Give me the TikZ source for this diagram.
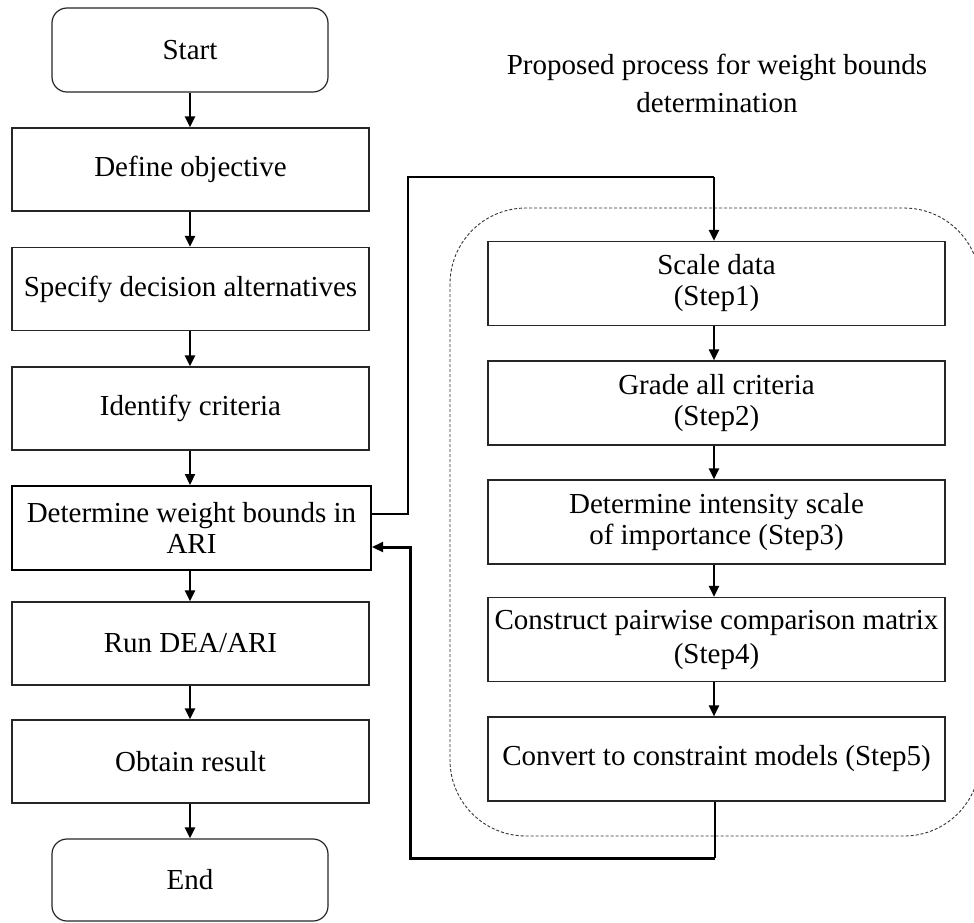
\documentclass[tikz,border=0pt]{standalone}
\usepackage{fontspec}
\setmainfont{Liberation Serif}
\usetikzlibrary{arrows.meta}
\begin{document}
\begin{tikzpicture}[x=1pt,y=-1pt,
  txt/.style={font=\fontsize{29}{31}\selectfont},
  box/.style={txt, draw=black!85, line width=1.2pt, fill=white, inner sep=0pt, align=center},
  leftbox/.style={box, minimum width=357, minimum height=83},
  rightbox/.style={box, minimum width=457, minimum height=84},
  termbox/.style={box, rounded corners=15, minimum width=276, minimum height=84},
  keybox/.style={box, draw=black, line width=2pt, minimum width=359, minimum height=84},
  arr/.style={draw=black, line width=2.2pt, -{Triangle[length=11pt,width=10pt]}},
  thinline/.style={draw=black, line width=1.2pt},
  thickline/.style={draw=black, line width=3pt},
  groupline/.style={draw=black!80, line width=0.9pt, dash pattern=on 3pt off 2pt, rounded corners=76}]
\useasboundingbox (0,0) rectangle (974,922);

% group outline for the proposed steps
\draw[groupline] (450,208) rectangle (980,836);

% main flow
\node[termbox] (start) at (190,50) {Start};
\node[leftbox] (def) at (190.5,169.5) {Define objective};
\node[leftbox] (spec) at (190.5,289) {Specify decision alternatives};
\node[leftbox] (ident) at (190.5,408.5) {Identify criteria};
\node[keybox] (det) at (191.5,528) {Determine weight bounds in\\ARI};
\node[leftbox] (run) at (190.5,643.5) {Run DEA/ARI};
\node[leftbox] (obt) at (190.5,761.5) {Obtain result};
\node[termbox, minimum height=82] (end) at (190,880) {End};

% proposed steps
\node[txt, align=center, font=\fontsize{29}{38}\selectfont] (title) at (717,83) {Proposed process for weight bounds\\determination};
\node[rightbox] (s1) at (716.5,283.5) {Scale data\\(Step1)};
\node[rightbox] (s2) at (716.5,403) {Grade all criteria\\(Step2)};
\node[rightbox] (s3) at (716.5,522) {Determine intensity scale\\of importance (Step3)};
\node[rightbox, font=\fontsize{29}{34}\selectfont] (s4) at (716.5,639.5) {Construct pairwise comparison matrix\\(Step4)};
\node[rightbox] (s5) at (716.5,759) {Convert to constraint models (Step5)};

% column guides
\coordinate (lc) at (190,0);
\coordinate (rc) at (714,0);

% arrows down the main flow
\foreach \a/\b in {start/def, def/spec, spec/ident, ident/det, det/run, run/obt, obt/end}
  \draw[arr] (\a.south -| lc) -- (\b.north -| lc);

% arrows down the steps
\foreach \a/\b in {s1/s2, s2/s3, s3/s4, s4/s5}
  \draw[arr] (\a.south -| rc) -- (\b.north -| rc);

% branch out to the steps
\coordinate (o1) at (408,514);
\coordinate (o2) at (408,177);
\coordinate (o3) at (714,177);
\draw[thinline] (det.east |- o1) -- (o1) -- (o2) -- (o3);
\draw[arr] (o3) -- (s1.north -| o3);

% return to the main flow
\coordinate (r1) at (715,858);
\coordinate (r2) at (410,858);
\coordinate (r3) at (410,547);
\draw[thinline] (s5.south -| r1) -- (r1);
\draw[thickline, line cap=butt] (r1) -- (r2) -- (r3) -- ([xshift=8pt]det.east |- r3);
\draw[arr] (r3) -- (det.east |- r3);
\end{tikzpicture}
\end{document}
